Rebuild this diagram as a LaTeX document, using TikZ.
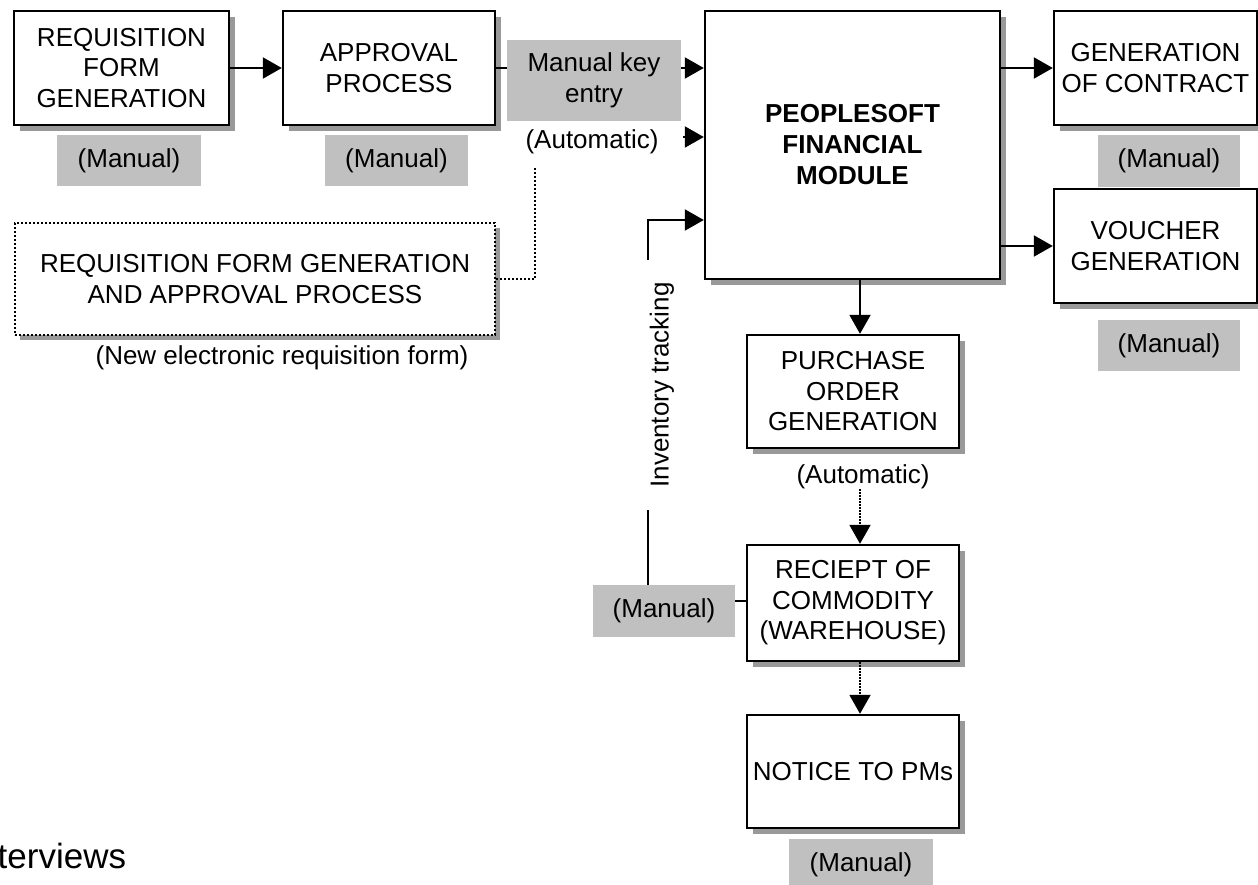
\documentclass[tikz,border=0pt]{standalone}
\usepackage{fontspec}
\setmainfont{Liberation Sans}
\usetikzlibrary{arrows.meta,calc,shadows}
\definecolor{shadowgray}{RGB}{153,153,153}
\definecolor{labelgray}{RGB}{192,192,192}
\tikzset{
  base/.style={font=\fontsize{26}{30.5}\selectfont, align=center, inner sep=0pt, rectangle},
  procbox/.style={base, draw, line width=2.4pt, fill=white,
    drop shadow={shadow xshift=6pt, shadow yshift=-6pt, fill=shadowgray, opacity=1}},
  dotbox/.style={base, draw, line width=2pt, dash pattern=on 2pt off 2pt, fill=white,
    drop shadow={shadow xshift=5pt, shadow yshift=-5pt, fill=shadowgray, opacity=1}},
  mlabel/.style={base, fill=labelgray},
  boldtext/.style={font=\fontsize{26}{31}\selectfont\bfseries},
  arr/.style={line width=2pt, -{Triangle[length=19pt,width=21pt]}},
  dotarr/.style={line width=2pt, dash pattern=on 1.5pt off 1.5pt, -{Triangle[length=19pt,width=21pt]}},
  plainline/.style={line width=2pt},
  dotline/.style={line width=2pt, dash pattern=on 2pt off 2pt},
}
\begin{document}
\begin{tikzpicture}[x=1pt,y=-1pt]
\useasboundingbox (0,0) rectangle (1258,885);

% top row
\node[procbox, minimum width=215pt, minimum height=114pt] (req) at (121.5,68) {REQUISITION\\FORM\\GENERATION};
\node[procbox, minimum width=212pt, minimum height=114pt] (appr) at (389,68) {APPROVAL\\PROCESS};
\node[mlabel, minimum width=144pt, minimum height=51pt] (m1) at (129,160.5) {(Manual)};
\node[mlabel, minimum width=143pt, minimum height=51pt] (m2) at (396.5,160.5) {(Manual)};
\node[procbox, boldtext, minimum width=295pt, minimum height=268pt] (ps) at (852.5,145) {PEOPLESOFT\\FINANCIAL\\MODULE};

\draw[arr] (req.east) -- (appr.west);
\draw[arr] (appr.east) -- (appr.east -| ps.west);
\node[mlabel, minimum width=174pt, minimum height=81pt] (mke) at (594,80.5) {Manual key\\entry};

\node[base] (a1) at (592,142) {(Automatic)};
\coordinate (a1in) at (683,137);
\draw[arr] (a1in) -- (a1in -| ps.west);

% dotted electronic requisition box
\node[dotbox, minimum width=480pt, minimum height=112pt] (dbox) at (255,279) {REQUISITION FORM GENERATION\\AND APPROVAL PROCESS};
\node[base] (newel) at (282,358) {(New electronic requisition form)};
\coordinate (dtop) at ([yshift=-14pt]a1.south -| 535,0);
\draw[dotline] (dtop) |- (dbox.east);

% right column
\node[procbox, minimum width=203pt, minimum height=114pt] (gen) at (1155.5,68) {GENERATION\\OF CONTRACT};
\node[mlabel, minimum width=142pt, minimum height=52pt] (mgen) at (1169,161) {(Manual)};
\node[procbox, minimum width=203pt, minimum height=114pt] (vou) at (1155.5,246) {VOUCHER\\GENERATION};
\node[mlabel, minimum width=142pt, minimum height=51pt] (mvou) at (1169,345.5) {(Manual)};
\draw[arr] (ps.east |- gen.west) -- (gen.west);
\draw[arr] (ps.east |- vou.west) -- (vou.west);

% lower column
\node[procbox, minimum width=212pt, minimum height=113pt] (po) at (853,391.5) {PURCHASE\\ORDER\\GENERATION};
\node[base] (a2) at (863,477) {(Automatic)};
\node[procbox, minimum width=212pt, minimum height=116pt] (rec) at (853,603) {RECIEPT OF\\COMMODITY\\(WAREHOUSE)};
\node[procbox, minimum width=212pt, minimum height=113pt] (notice) at (853,771.5) {NOTICE TO PMs};
\node[mlabel, minimum width=144pt, minimum height=51pt] (m4) at (861,864.5) {(Manual)};
\node[mlabel, minimum width=142pt, minimum height=52pt] (m3) at (664,611) {(Manual)};

\draw[arr] (ps.south -| 860,0) -- (po.north -| 860,0);
\draw[dotarr] (a2.south -| 860,0) -- (rec.north -| 860,0);
\draw[dotarr] (rec.south -| 860,0) -- (notice.north -| 860,0);
\draw[plainline] (m3.east |- 0,601) -- (rec.west |- 0,601);

% inventory tracking feedback
\node[base, rotate=90, minimum width=249pt] (inv) at (662,385) {Inventory tracking};
\coordinate (ib) at (m3.north -| 648,0);
\coordinate (psin3) at (ps.west |- 0,220);
\draw[plainline] (ib) -- (ib |- inv.west);
\draw[arr] (ib |- inv.east) |- (psin3);

% cut-off text at the bottom left
\node[font=\fontsize{35}{40}\selectfont, anchor=base west, inner sep=0pt] (intv) at (-2.5,868) {terviews};
\end{tikzpicture}
\end{document}
